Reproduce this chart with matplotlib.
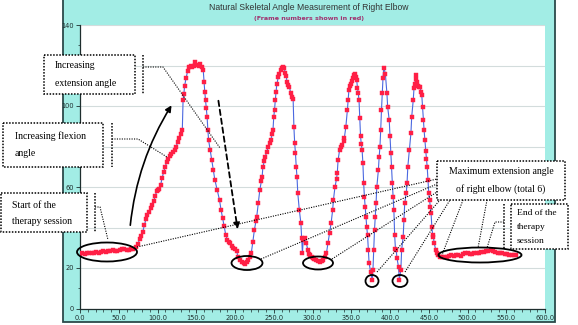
import matplotlib
matplotlib.use("Agg")
import matplotlib.pyplot as plt
from matplotlib.patches import Rectangle, Ellipse, FancyArrowPatch
from matplotlib.ticker import MultipleLocator, FuncFormatter

# ---------------- data (frame number, elbow angle in degrees) ----------------
frames = [0, 3, 6, 9, 12, 15, 18, 21, 24, 27, 30, 33, 36, 39, 42, 45, 48, 51, 54, 57, 60, 63, 66, 69, 72,
          75, 77, 79, 81, 83, 85, 87, 89, 91, 93, 95, 97, 99, 100, 102, 104, 106, 108, 110, 112, 114, 116, 118,
          120, 122, 124, 126, 128, 130, 132, 133, 134, 135, 137, 139, 141, 143, 145, 147, 149, 151, 153, 155,
          157, 159, 160, 161, 162, 163, 164, 165, 166, 168, 170, 172, 174, 177, 180, 182, 184, 186, 188, 190,
          192, 194, 196, 198, 200, 202, 204, 206, 209, 211, 213, 215, 217, 219, 221, 223, 225, 227, 228, 230,
          232, 234, 235, 236, 238, 239, 241, 243, 245, 246, 248, 249, 250, 251, 252, 253, 254, 256, 257, 259,
          260, 262, 263, 265, 266, 267, 269, 270, 272, 274, 275, 276, 277, 278, 279, 280, 281, 283, 285, 286,
          287, 288, 290, 292, 294, 296, 297, 299, 300, 302, 305, 307, 310, 312, 314, 316, 318, 320, 322, 324,
          326, 327, 329, 331, 332, 333, 335, 337, 338, 340, 341, 343, 345, 346, 347, 349, 350, 351, 352, 354,
          355, 356, 357, 358, 359, 360, 361, 362, 363, 364, 365, 366, 367, 368, 369, 370, 371, 372, 373, 375,
          377, 378, 379, 380, 381, 382, 383, 385, 386, 387, 388, 389, 390, 391, 392, 394, 396, 397, 399, 400,
          401, 402, 403, 404, 405, 406, 407, 408, 409, 411, 412, 414, 415, 417, 418, 419, 421, 422, 423, 425,
          427, 428, 430, 431, 432, 433, 434, 435, 436, 437, 439, 440, 441, 442, 443, 444, 445, 446, 447, 448,
          449, 450, 451, 452, 453, 454, 455, 456, 457, 459, 461, 462, 465, 467,
          470, 473, 476, 479, 482, 485, 488, 491, 494, 497, 500, 503, 506, 509, 512, 515, 518, 521, 524, 527,
          530, 533, 536, 539, 542, 545, 548, 551, 554, 557, 560, 563]
angles = [27.0, 27.2, 27.0, 27.4, 27.2, 27.6, 27.4, 27.8, 27.6, 28.0, 28.2, 27.9, 28.4, 28.6, 28.9, 28.4,
          28.2, 28.7, 29.2, 29.5, 29.1, 29.0, 29.3, 29.6, 30.2,
          32.0, 34.5, 36.0, 38.0, 41.0, 44.0, 46.0, 47.5, 49.5, 51.0, 53.0, 55.5, 58.0, 58.5, 59.0, 61.0, 64.5,
          67.5, 70.0, 72.5, 74.0, 75.5, 76.5, 77.5, 78.5, 80.0, 82.0, 84.0, 86.0, 88.0, 103.0, 106.0, 110.0,
          114.0, 117.5, 119.5, 119.8, 119.5, 120.0, 121.5, 120.2, 120.0, 120.8, 119.5, 117.8, 112.0, 107.0,
          103.0, 99.0, 94.6, 88.0, 83.0, 78.3, 73.3, 68.4, 63.5, 58.5, 53.6, 48.6, 44.7, 40.5, 36.5, 34.0,
          33.0, 32.3, 31.0, 29.9, 29.4, 28.5, 25.5, 24.0, 23.0, 22.3, 22.0, 23.0, 24.0, 25.5, 27.4, 32.8, 38.8,
          43.0, 45.2, 52.0, 58.5, 63.0, 65.0, 70.0, 73.0, 74.8, 77.5, 79.8, 81.5, 83.2, 86.0, 88.0, 94.6, 98.0,
          103.0, 107.0, 111.0, 114.5, 116.0, 118.0, 119.0, 119.5, 119.0, 116.5, 115.0, 112.0, 110.5, 109.6,
          106.4, 104.5, 103.5, 89.6, 81.7, 76.8, 70.0, 65.0, 57.0, 48.6, 42.2, 34.8, 27.4, 33.8, 34.8, 32.3,
          28.9, 27.0, 26.4, 25.3, 24.9, 24.5, 24.0, 23.5, 23.0, 23.5, 24.0, 25.5, 27.4, 32.3, 37.3, 42.2, 48.6,
          53.6, 60.0, 64.0, 67.0, 73.3, 78.3, 80.0, 80.7, 82.5, 84.0, 89.6, 98.0, 103.0, 108.0, 110.0, 111.0,
          112.5, 114.0, 115.5, 115.8, 114.5, 113.0, 109.0, 106.4, 103.0, 94.0, 85.0, 81.0, 78.3, 71.9, 62.0,
          55.0, 50.0, 45.2, 40.2, 36.3, 28.9, 22.5, 18.0, 14.1, 19.0, 28.9, 38.8, 45.2, 52.0, 60.0, 68.4, 74.8,
          79.8, 88.0, 98.0, 106.4, 114.0, 119.0, 116.0, 106.4, 99.5, 93.0, 85.0, 76.8, 70.0, 62.0, 55.0, 48.6,
          36.3, 29.5, 28.9, 24.9, 20.5, 14.1, 19.0, 28.9, 35.5, 43.7, 52.0, 57.0, 62.0, 70.0, 78.3, 86.6, 94.6,
          103.0, 109.0, 111.0, 113.5, 115.3, 112.0, 110.0, 109.5, 109.6, 107.0, 105.4, 99.5, 93.0, 88.0, 83.2,
          78.0, 74.0, 70.0, 63.5, 57.0, 53.6, 50.0, 47.0, 40.2, 36.5, 35.3, 32.3, 29.0, 27.5, 26.4, 25.5, 25.2,
          25.5, 25.6, 26.0, 26.4, 25.8, 26.3, 26.6, 26.0, 26.8, 27.2, 27.4, 26.9, 27.0, 27.4, 27.6, 27.4, 27.9,
          28.0, 28.3, 28.6, 28.9, 28.2, 28.0, 27.6, 27.4, 27.2, 27.0, 26.8, 26.6, 26.4, 26.4, 26.2]

# y tick labels visible in the reference (the others are hidden behind the note boxes)
visible_y_labels = [0, 20, 60, 100, 140]

title_text = "Natural Skeletal Angle Measurement of Right Elbow"
subtitle_text = "(Frame numbers shown in red)"

W, H = 578, 325
fig = plt.figure(figsize=(W / 100, H / 100), dpi=100)
fig.patch.set_facecolor("white")

# cyan panel behind the chart
bg = fig.add_axes([0, 0, 1, 1], zorder=0)
bg.set_xlim(0, W)
bg.set_ylim(H, 0)
bg.axis("off")
bg.add_patch(Rectangle((63, -2), 492, 324, facecolor="#a2ede5", edgecolor="#2b4a4a", lw=1.3))
bg.text(309, 7, title_text, ha="center", va="center", fontsize=6.2,
        family="Liberation Sans", color="#333333")
bg.text(309, 18.5, subtitle_text, ha="center", va="center", fontsize=4.6,
        family="DejaVu Sans", weight="bold", color="#a0306e")

# main plot area
ax = fig.add_axes([80 / W, 1 - 308.5 / H, 465 / W, 283.5 / H], zorder=1)
ax.set_facecolor("white")
ax.set_xlim(0, 600)
ax.set_ylim(0, 140)
ax.xaxis.set_major_locator(MultipleLocator(50))
ax.xaxis.set_minor_locator(MultipleLocator(10))
ax.yaxis.set_major_locator(MultipleLocator(20))
ax.yaxis.set_minor_locator(MultipleLocator(10))
ax.xaxis.set_major_formatter(FuncFormatter(lambda v, p: f"{v:.1f}"))
ax.yaxis.set_major_formatter(FuncFormatter(
    lambda v, p: f"{int(round(v))}" if int(round(v)) in visible_y_labels else ""))
ax.grid(axis="y", color="#d3dcdc", lw=0.8)
ax.set_axisbelow(True)
for s in ("top", "right"):
    ax.spines[s].set_visible(False)
for s in ("left", "bottom"):
    ax.spines[s].set_color("#1e2e2e")
    ax.spines[s].set_linewidth(0.9)
ax.tick_params(axis="both", which="major", length=3, width=0.6, labelsize=4.8, pad=1.5,
               colors="#1e2e2e")
ax.tick_params(axis="both", which="minor", length=1.8, width=0.5, colors="#1e2e2e")

ax.plot(frames, angles, color="#4b68e0", lw=0.8, zorder=2)
ax.plot(frames, angles, ls="none", marker="s", ms=2.5, mfc="#ff1f45", mec="#ff1f45",
        mew=0.3, zorder=3)

# annotation layer (figure pixel coordinates)
an = fig.add_axes([0, 0, 1, 1], zorder=5)
an.set_xlim(0, W)
an.set_ylim(H, 0)
an.axis("off")
an.patch.set_alpha(0)

serif = "Liberation Serif"
tsz = 7


def box(x0, y0, x1, y1, lines, tx, ty, dy=17, ha="left", bx=None, size=tsz):
    an.add_patch(Rectangle((x0, y0), x1 - x0, y1 - y0, facecolor="white",
                           edgecolor="black", lw=1.1, ls=(0, (1, 1))))
    for i, t in enumerate(lines):
        an.text(tx, ty + i * dy, t, fontsize=size, family=serif, ha=ha, va="center")
    if bx is not None:
        an.plot([bx, bx], [y0, y1], color="black", lw=1.1, ls=(0, (1, 1)))


def dots(xs, ys):
    an.plot(xs, ys, color="black", lw=0.8, ls=(0, (1, 1.2)))


# Increasing extension angle
box(44, 55, 135, 94, ["Increasing", "extension angle"], 55, 66, bx=143)
dots([143, 163, 220], [67, 67, 148])
# Increasing flexion angle
box(3, 123, 103, 167, ["Increasing flexion", "angle"], 15, 136, bx=112)
dots([112, 138, 167], [139, 139, 157])
# Start of therapy session
box(1, 193, 87, 232, ["Start of the", "therapy session"], 12, 205, bx=95)
dots([95, 100, 108], [207, 207, 240])
# Maximum extension angle
box(437, 161, 565, 200, ["Maximum extension angle", "of right elbow (total 6)"], 501, 172,
    ha="center")
# End of therapy session
box(511, 204, 568, 249, ["End of the", "therapy", "session"], 517, 213, dy=14, bx=504, size=6.8)
dots([504, 495, 487], [222, 222, 248])

# ellipses around the rest positions
for cx, cy, w, h in [(107, 252, 60, 19), (247, 263, 31, 14), (318, 263, 30, 13),
                     (372, 281, 13, 12), (400, 281, 15, 12), (480, 255, 83, 15)]:
    an.add_patch(Ellipse((cx, cy), w, h, facecolor="none", edgecolor="black", lw=1.3))

# connectors to the maximum extension box
dots([137, 437], [247, 179])
dots([261, 437], [259, 184])
dots([332, 437], [259, 192])
dots([377, 440], [272, 200])
dots([405, 450], [272, 200])
dots([463, 442], [200, 255])
dots([487, 478], [200, 248])

# arrows
an.add_patch(FancyArrowPatch((130, 228), (173, 103), connectionstyle="arc3,rad=-0.12",
                             arrowstyle="-|>", mutation_scale=9, lw=1.2, color="black"))
an.add_patch(FancyArrowPatch((218, 98), (238, 232), arrowstyle="-|>", mutation_scale=9,
                             lw=1.3, color="black", ls=(0, (3, 2))))

fig.savefig("out.png", dpi=100)
